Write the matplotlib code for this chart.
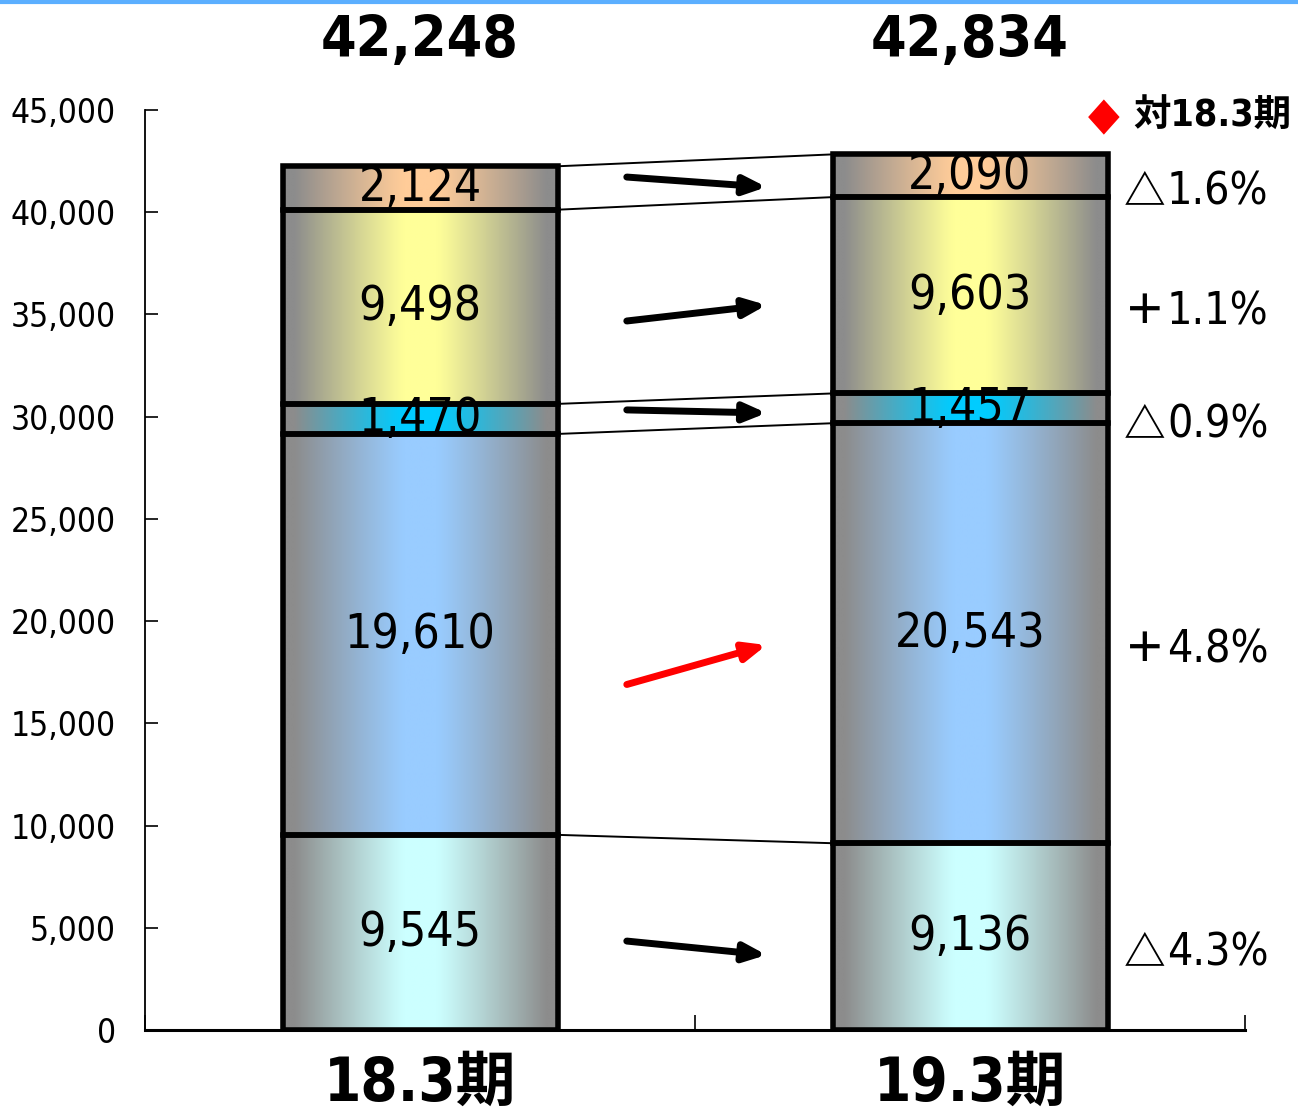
import numpy as np
import matplotlib
matplotlib.use("Agg")
import matplotlib.pyplot as plt
from matplotlib.colors import to_rgb
from matplotlib.ticker import FuncFormatter

plt.rcParams['font.family'] = ['DejaVu Sans', 'Noto Sans CJK JP']
plt.rcParams['font.stretch'] = 'condensed'

# ---- data ----
periods = ["18.3期", "19.3期"]
totals = ["42,248", "42,834"]
seg_colors = ["#CCFFFF", "#99CCFF", "#00CCFF", "#FFFF99", "#FFCC99"]
vals_18 = [9545, 19610, 1470, 9498, 2124]
vals_19 = [9136, 20543, 1457, 9603, 2090]
changes = ["△4.3%", "＋4.8%", "△0.9%", "＋1.1%", "△1.6%"]
arrow_colors = ["black", "red", "black", "black", "black"]
# arrow start / end heights (value axis)
arrow_y0 = [4350, 16900, 30330, 34680, 41720]
arrow_y1 = [3670, 18830, 30180, 35460, 41230]
legend_text = "対18.3期"
yticks = list(range(0, 45001, 5000))

fig = plt.figure(figsize=(12.98, 11.12), dpi=100)
ax = fig.add_axes([145/1298, 1 - 1030/1112, 1100/1298, 920/1112])
ax.set_xlim(-0.5, 1.5)
ax.set_ylim(0, 45000)

width = 0.5
grey = np.array(to_rgb("#8C8C8C"))

def gradient_img(color):
    c = np.array(to_rgb(color))
    t = np.linspace(-1, 1, 256)
    d = np.clip((np.abs(t) - 0.12) / 0.80, 0, 1)
    w = d ** 1.1
    img = (1 - w)[:, None] * c[None, :] + w[:, None] * grey[None, :]
    return img[None, :, :]

data = [vals_18, vals_19]
tops_all = []
for i, vals in enumerate(data):
    bottom = 0
    tops = []
    for j, v in enumerate(vals):
        bars = ax.bar(i, v, width=width, bottom=bottom, facecolor='none',
                      edgecolor='black', linewidth=4, zorder=3)
        p = bars.patches[0]
        im = ax.imshow(gradient_img(seg_colors[j]), aspect='auto',
                       extent=(i - width/2, i + width/2, bottom, bottom + v),
                       zorder=2, interpolation='bilinear')
        im.set_clip_path(p)
        ax.text(i, bottom + v/2, f"{v:,}", ha='center', va='center',
                fontsize=34.5, zorder=5)
        bottom += v
        tops.append(bottom)
    tops_all.append(tops)
    ax.text(i, 1.074, totals[i], transform=ax.get_xaxis_transform(),
            ha='center', va='center', fontsize=41, fontweight='bold')

# connector lines
for y0, y1 in zip(tops_all[0], tops_all[1]):
    ax.plot([0 + width/2, 1 - width/2], [y0, y1], color='black', lw=1.4, zorder=1)

# arrows
for y0, y1, c in zip(arrow_y0, arrow_y1, arrow_colors):
    ax.annotate("", xy=(0.63, y1), xytext=(0.376, y0),
                arrowprops=dict(arrowstyle="-|>,head_length=1.3,head_width=0.55",
                                color=c, lw=5, shrinkA=0, shrinkB=0), zorder=4)

# change labels (sign glyph in the CJK font, number in condensed sans)
b = 0
for v, s in zip(vals_19, changes):
    yc = b + v/2
    ax.annotate(s[0], xy=(1.28, yc), xytext=(0, -12), textcoords='offset points',
                ha='left', va='center', fontsize=30, fontweight='bold',
                family=['Noto Sans CJK JP'])
    ax.annotate(s[1:], xy=(1.28, yc), xytext=(31, -12), textcoords='offset points',
                ha='left', va='center', fontsize=32)
    b += v

# legend marker
fig.text(1088/1298, 1 - 117/1112, "◆", color='red', fontsize=33, ha='left', va='center')
fig.text(1133/1298, 1 - 117/1112, legend_text, fontsize=27, fontweight='bold',
         ha='left', va='center')

# axes style
ax.set_yticks(yticks)
ax.yaxis.set_major_formatter(FuncFormatter(lambda v, p: f"{int(v):,}"))
ax.tick_params(axis='y', direction='in', length=9, width=1.2, labelsize=24, pad=21)
ax.set_xticks([0, 1])
ax.set_xticklabels(periods, fontsize=43, fontweight='bold')
ax.tick_params(axis='x', length=0, pad=18)
ax.set_xticks([-0.5, 0.5, 1.5], minor=True)
ax.tick_params(axis='x', which='minor', direction='in', length=11, width=1.2)
ax.spines['top'].set_visible(False)
ax.spines['right'].set_visible(False)
ax.spines['left'].set_linewidth(1.3)
ax.spines['bottom'].set_linewidth(2.2)

# top blue rule
fig.add_artist(plt.Line2D([0, 1], [1 - 1.5/1112, 1 - 1.5/1112], color='#5BAFFF', lw=3,
                          transform=fig.transFigure))

fig.savefig("out.png", dpi=100)
